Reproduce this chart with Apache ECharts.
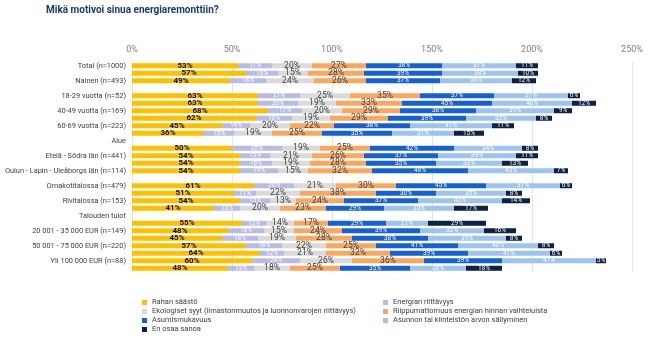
<!DOCTYPE html>
<html>
<head>
<meta charset="utf-8">
<script src="https://cdn.jsdelivr.net/npm/echarts@6/dist/echarts.min.js"></script>
<style>
html,body{margin:0;padding:0;background:#fff;}
#c{width:651px;height:338px;}
</style>
</head>
<body>
<div id="c"></div>
<script>
var categories = [
  'Total (n=1000)','Mies (n=507)','Nainen (n=493)','Ikä',
  '18-29 vuotta (n=52)','30-39 vuotta (n=120)','40-49 vuotta (n=169)','50-59 vuotta (n=205)',
  '60-69 vuotta (n=223)','70-79 vuotta (n=231)','Alue',
  'Pääkaupunkiseutu (n=245)','Etelä - Södra län (n=441)','Länsi - Västra län (n=200)','Oulun - Lapin - Uleåborgs län (n=114)',
  'Asumismuoto','Omakotitalossa (n=479)','Paritalossa (n=60)','Rivitalossa (n=153)','Muu (n=50)',
  'Talouden tulot','Alle 20 000 EUR (n=60)','20 001 - 35 000 EUR (n=149)','35 001 - 50 000 EUR (n=180)',
  '50 001 - 75 000 EUR (n=220)','75 001 - 100 000 EUR (n=140)','Yli 100 000 EUR (n=88)','En halua sanoa (n=163)'
];
var seriesNames = [
  'Rahan säästö',
  'Energian riittävyys',
  'Ekologiset syyt (ilmastonmuutos ja luonnonvarojen riittävyys)',
  'Riippumattomuus energian hinnan vaihteluista',
  'Asumismukavuus',
  'Asunnon tai kiinteistön arvon säilyminen',
  'En osaa sanoa'
];
var rahan    = [53,57,49,null,63,63,68,62,45,36,null,50,54,54,54,null,61,51,54,41,null,55,48,45,57,64,60,48];
var energia  = [17,16,18,null,21,20,17,18,14,15,null,25,15,16,19,null,20,11,15,13,null,12,18,18,18,12,24,13];
var ekolog   = [20,15,24,null,25,19,20,19,20,19,null,19,21,19,15,null,21,22,13,20,null,14,15,19,22,21,26,18];
var riippu   = [27,28,26,null,35,33,29,29,22,25,null,25,26,28,32,null,30,38,24,23,null,17,24,28,25,32,36,25];
var asumis   = [38,39,37,null,37,45,38,39,38,35,null,42,37,35,48,null,45,30,37,29,null,29,39,38,41,39,39,35];
var asunnon  = [37,38,36,null,37,40,39,35,41,31,null,34,39,33,43,null,37,35,42,35,null,21,32,39,40,41,47,28];
var enosaa   = [11,10,12,null,6,12,9,8,11,15,null,8,11,13,7,null,6,8,14,17,null,29,16,8,8,6,5,18];
var xTicks = [0,50,100,150,200,250];

var values = [rahan, energia, ekolog, riippu, asumis, asunnon, enosaa];
var colors = ['#FFC000','#B7BCE4','#DADADA','#FBA75E','#1560D2','#9DC3EE','#0C2143'];
var labelStyles = [
  {color:'#111', fontSize:8, fontWeight:'bold'},
  {color:'#fff', fontSize:6.5},
  {color:'#404040', fontSize:8.5},
  {color:'#404040', fontSize:8.5},
  {color:'#fff', fontSize:6.5},
  {color:'#fff', fontSize:6.5},
  {color:'#fff', fontSize:6.5}
];
var FONT = 'Roboto, "Liberation Sans", Arial, sans-serif';

var series = seriesNames.map(function(n, i){
  return {
    name: n, type: 'bar', stack: 'all', barWidth: 5,
    data: values[i],
    itemStyle: {color: colors[i]},
    label: Object.assign({show: true, position: 'inside', fontFamily: FONT,
      formatter: function(p){ return p.value == null ? '' : p.value + '%'; }}, labelStyles[i]),
    labelLayout: {hideOverlap: false}
  };
});

var legendText = {color: '#404040', fontSize: 7.5, lineHeight: 9, fontFamily: FONT};

var chart = echarts.init(document.getElementById('c'), null, {renderer: 'canvas'});
chart.setOption({
  animation: false,
  backgroundColor: '#fff',
  textStyle: {fontFamily: FONT},
  title: {
    text: 'Mikä motivoi sinua energiaremonttiin?',
    left: 46, top: 5, padding: 0,
    textStyle: {color: '#1B3A70', fontSize: 10, fontWeight: 'bold', fontFamily: FONT}
  },
  grid: {left: 132, right: 19, top: 62, bottom: 66, containLabel: false, outerBoundsMode: 'none'},
  xAxis: {
    type: 'value', position: 'top', min: xTicks[0], max: xTicks[xTicks.length-1], interval: 50,
    axisLabel: {color: '#7f7f7f', fontSize: 9, margin: 8, formatter: '{value}%', fontFamily: FONT},
    axisLine: {show: false}, axisTick: {show: false},
    splitLine: {show: true, lineStyle: {color: '#e4e4e4', width: 1}}
  },
  yAxis: {
    type: 'category', inverse: true, data: categories,
    axisLine: {show: false}, axisTick: {show: false},
    axisLabel: {interval: 1, color: '#404040', fontSize: 7.4, margin: 6, fontFamily: FONT}
  },
  legend: [
    {
      orient: 'vertical', left: 142, top: 298, itemGap: 0, padding: 0, height: 40,
      itemWidth: 5, itemHeight: 5, icon: 'rect',
      data: [seriesNames[0], seriesNames[2], seriesNames[4], seriesNames[6]],
      textStyle: legendText
    },
    {
      orient: 'vertical', left: 383, top: 298, itemGap: 0, padding: 0, height: 40,
      itemWidth: 5, itemHeight: 5, icon: 'rect',
      data: [seriesNames[1], seriesNames[3], seriesNames[5]],
      textStyle: legendText
    }
  ],
  series: series
});
</script>
</body>
</html>
